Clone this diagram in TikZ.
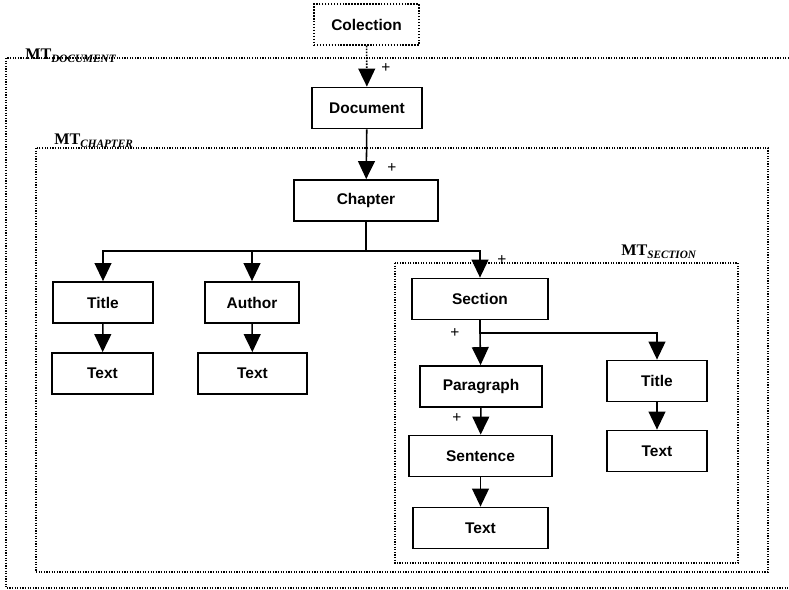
\documentclass[tikz,border=0pt]{standalone}
\usepackage{fontspec}
\setmainfont{Liberation Serif}
\setsansfont{Liberation Sans}
\usetikzlibrary{arrows.meta}
\newcommand{\mtlabel}[1]{{\fontsize{11.5}{12}\selectfont\bfseries MT}\raisebox{-2pt}{\fontsize{8}{9}\selectfont\bfseries\itshape #1}}

\begin{document}
\begin{tikzpicture}[x=0.025cm,y=-0.025cm,
  elem/.style={draw,line width=1.1pt,minimum height=1.03cm,inner sep=0pt,
    font=\sffamily\bfseries\fontsize{11}{12}\selectfont},
  arr/.style={line width=1.1pt,-{Triangle[length=0.45cm,width=0.42cm]}},
  mtbox/.style={densely dotted,line width=0.85pt},
  mtname/.style={anchor=base west,inner sep=0pt},
  plus/.style={font=\sffamily\fontsize{11}{12}\selectfont}]
  \useasboundingbox (0,0) rectangle (789,590);
  % model-type boxes
  \draw[mtbox] (789,58) -- (6,58) -- (6,588) -- (789,588);
  \draw[mtbox] (36,148) rectangle (768,572);
  \draw[mtbox] (395,263) rectangle (738,563);
  \node[mtname] (mtdoc) at (25,60) {\mtlabel{DOCUMENT}};
  \node[mtname] (mtchap) at (54,145) {\mtlabel{CHAPTER}};
  \node[mtname] (mtsec) at (621,256) {\mtlabel{SECTION}};
  % elements
  \node[elem,mtbox,line width=0.9pt,minimum width=2.63cm] (colection) at (366.5,24.5) {Colection};
  \node[elem,minimum width=2.75cm] (document) at (367,108) {Document};
  \node[elem,minimum width=3.6cm] (chapter) at (366,200.5) {Chapter};
  \node[elem,minimum width=2.5cm] (title) at (103,302.5) {Title};
  \node[elem,minimum width=2.53cm] (titletext) at (102.5,373.5) {Text};
  \node[elem,minimum width=2.35cm] (author) at (252,302.5) {Author};
  \node[elem,minimum width=2.73cm] (authortext) at (252.5,373.5) {Text};
  \node[elem,minimum width=3.4cm] (section) at (480,299) {Section};
  \node[elem,minimum width=3.05cm] (paragraph) at (481,386.5) {Paragraph};
  \node[elem,minimum width=3.58cm] (sentence) at (480.5,456) {Sentence};
  \node[elem,minimum width=3.38cm] (sentencetext) at (480.5,528) {Text};
  \node[elem,minimum width=2.5cm] (sectitle) at (657,381) {Title};
  \node[elem,minimum width=2.5cm] (sectitletext) at (657,451) {Text};
  % connectors
  \draw[arr,densely dotted] (colection) -- (document);
  \draw[arr] (document) -- (chapter);
  \coordinate (chapfork) at (366,251);
  \draw[line width=1.1pt] (chapter) -- (chapfork);
  \draw[arr] (chapfork) -| (title);
  \draw[arr] (chapfork) -| (author);
  \draw[arr] (chapfork) -| (section);
  \draw[arr] (title) -- (titletext);
  \draw[arr] (author) -- (authortext);
  \coordinate (secfork) at (480,333);
  \draw[line width=1.1pt] (section) -- (secfork);
  \draw[arr] (secfork) -- (paragraph);
  \draw[arr] (secfork) -| (sectitle);
  \draw[arr] (paragraph) -- (sentence);
  \draw[arr] (sentence) -- (sentencetext);
  \draw[arr] (sectitle) -- (sectitletext);
  % cardinalities
  \node[plus] (pdoc) at (386,68) {+};
  \node[plus] (pchap) at (392,168) {+};
  \node[plus] (psec) at (502,260) {+};
  \node[plus] (ppar) at (455,333) {+};
  \node[plus] (psent) at (457,418) {+};
\end{tikzpicture}
\end{document}
